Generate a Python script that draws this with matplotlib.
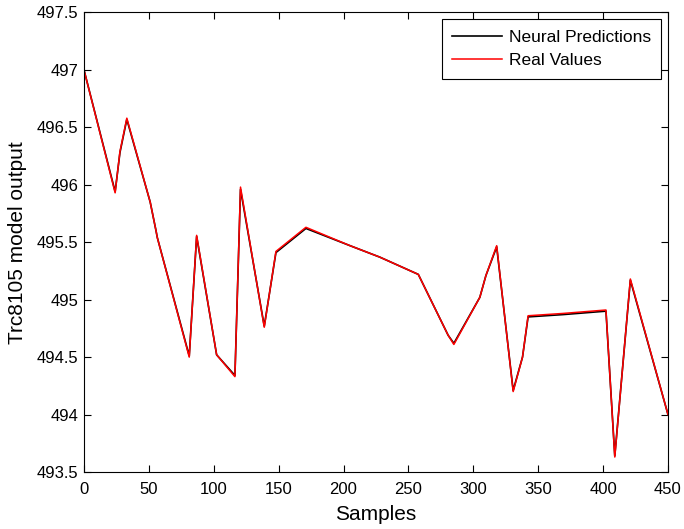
import matplotlib
matplotlib.use("Agg")
import matplotlib.pyplot as plt

plt.rcParams['font.family'] = ['Liberation Sans', 'DejaVu Sans']

samples = [0, 24, 27.7, 33, 51, 55.5, 56.5, 81.1, 86.8, 102.2, 116.3, 120.6, 138.9, 147.9, 171, 205, 228, 257.6,
           280.6, 285, 305, 309.7, 318, 330.7, 337.9, 342.2, 369, 402.2, 409, 421, 450]
real_values = [497.0, 495.93, 496.29, 496.58, 495.85, 495.6, 495.54, 494.5, 495.56, 494.52, 494.33, 495.98,
               494.76, 495.42, 495.63, 495.47, 495.37, 495.22, 494.69, 494.61, 495.02, 495.21, 495.47, 494.2,
               494.5, 494.86, 494.88, 494.91, 493.63, 495.18, 494.0]
neural_predictions = [497.0, 495.94, 496.28, 496.57, 495.85, 495.6, 495.54, 494.51, 495.55, 494.52, 494.34, 495.96,
                      494.77, 495.41, 495.62, 495.47, 495.37, 495.22, 494.69, 494.62, 495.02, 495.21, 495.46, 494.21,
                      494.5, 494.85, 494.87, 494.9, 493.64, 495.17, 494.0]

fig = plt.figure(figsize=(6.84, 5.29), dpi=100)
ax = fig.add_axes([0.1228, 0.1078, 0.8538, 0.8686])
ax.plot(samples, neural_predictions, color='black', lw=1.2, label='Neural Predictions')
ax.plot(samples, real_values, color='#ff0000', lw=1.1, label='Real Values')

ax.set_xlim(0, 450)
ax.set_ylim(493.5, 497.5)
ax.set_xticks(range(0, 451, 50))
ax.set_yticks([493.5, 494, 494.5, 495, 495.5, 496, 496.5, 497, 497.5])
ax.set_yticklabels(['493.5', '494', '494.5', '495', '495.5', '496', '496.5', '497', '497.5'])
ax.tick_params(direction='in', top=True, right=True, labelsize=12, length=5, width=0.8)
ax.tick_params(axis='x', pad=7)
ax.tick_params(axis='y', pad=4)
for s in ax.spines.values():
    s.set_linewidth(0.8)
ax.set_xlabel('Samples', fontsize=15, labelpad=6)
ax.set_ylabel('Trc8105 model output', fontsize=15, labelpad=7)
leg = ax.legend(loc='upper right', fontsize=12.5, fancybox=False, framealpha=1, edgecolor='black',
                borderaxespad=0.4, handlelength=2.9, handletextpad=0.35, borderpad=0.6, labelspacing=0.48)
leg.get_frame().set_linewidth(0.8)

fig.savefig('out.png', dpi=100)
